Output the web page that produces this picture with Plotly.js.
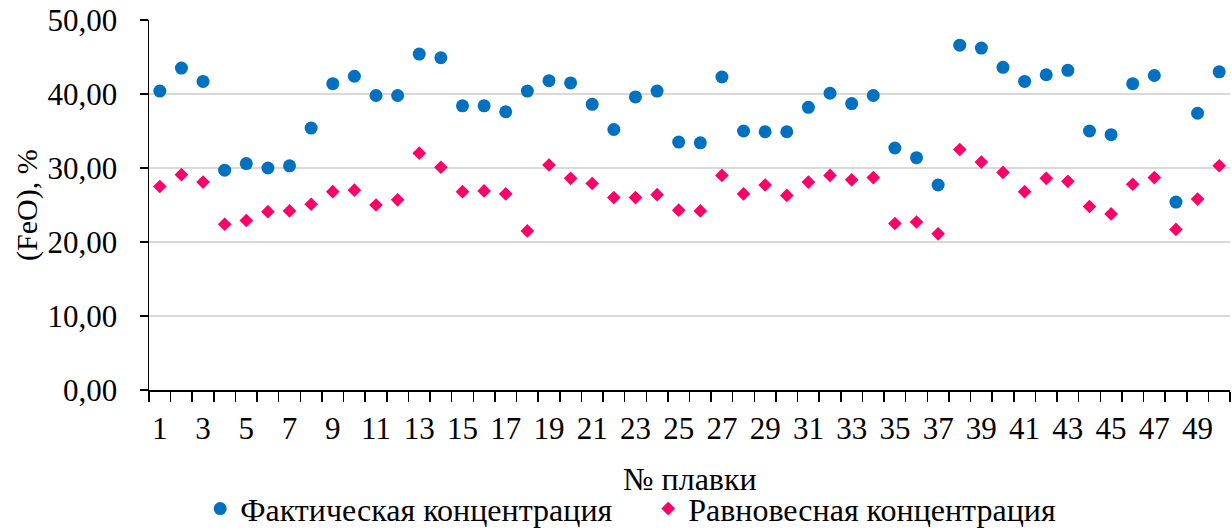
<!DOCTYPE html>
<html>
<head>
<meta charset="utf-8">
<script src="https://cdn.plot.ly/plotly-3.0.1.min.js"></script>
<style>html,body{margin:0;padding:0;background:#fff;}#chart{width:1232px;height:530px;}</style>
</head>
<body>
<div id="chart"></div>
<script>
const meltNumbers = [1,2,3,4,5,6,7,8,9,10,11,12,13,14,15,16,17,18,19,20,21,22,23,24,25,26,27,28,29,30,31,32,33,34,35,36,37,38,39,40,41,42,43,44,45,46,47,48,49,50];
const actualFeO = [40.4,43.5,41.7,29.7,30.6,30.0,30.3,35.4,41.4,42.4,39.8,39.8,45.4,44.9,38.4,38.4,37.6,40.4,41.8,41.5,38.6,35.2,39.6,40.4,33.5,33.4,42.3,35.0,34.9,34.9,38.2,40.1,38.7,39.8,32.7,31.4,27.7,46.6,46.2,43.6,41.7,42.6,43.2,35.0,34.5,41.4,42.5,25.4,37.4,43.0];
const equilibriumFeO = [27.5,29.1,28.1,22.4,22.9,24.1,24.2,25.1,26.8,27.0,25.0,25.7,32.0,30.1,26.8,26.9,26.5,21.5,30.4,28.6,27.9,26.0,26.0,26.4,24.3,24.2,29.0,26.5,27.7,26.3,28.1,29.0,28.4,28.7,22.5,22.7,21.1,32.5,30.8,29.4,26.8,28.6,28.2,24.8,23.8,27.8,28.7,21.7,25.8,30.3];
const xTickVals = [1,3,5,7,9,11,13,15,17,19,21,23,25,27,29,31,33,35,37,39,41,43,45,47,49];
const xTickText = ["1","3","5","7","9","11","13","15","17","19","21","23","25","27","29","31","33","35","37","39","41","43","45","47","49"];
const yTickVals = [0,10,20,30,40,50];
const seriesNames = ["Фактическая концентрация","Равновесная концентрация"];
const xTitle = "№ плавки";
const yTitle = "(FeO), %";

const FONT = "'Liberation Serif', 'Times New Roman', serif";

const traces = [
  {x: meltNumbers, y: actualFeO, type: "scatter", mode: "markers", name: seriesNames[0],
   marker: {symbol: "circle", size: 13, color: "#0070C0"}},
  {x: meltNumbers, y: equilibriumFeO, type: "scatter", mode: "markers", name: seriesNames[1],
   marker: {symbol: "diamond", size: 10.5, color: "#FF0066"}}
];

const layout = {
  width: 1232, height: 530,
  margin: {l: 149, r: 2, t: 20, b: 140},
  paper_bgcolor: "#fff", plot_bgcolor: "#fff",
  font: {family: FONT, size: 31, color: "#000"},
  separators: ", ",
  showlegend: true,
  legend: {orientation: "h", xref: "container", x: 0.1625, xanchor: "left", yref: "container", y: 0.04, yanchor: "middle",
           font: {family: FONT, size: 32, color: "#000"}, itemwidth: 30, entrywidth: 403, bgcolor: "rgba(0,0,0,0)"},
  xaxis: {
    range: [0.5, 50.5], tickmode: "array", tickvals: xTickVals, ticktext: xTickText,
    ticks: "outside", ticklen: 8, tickcolor: "rgba(0,0,0,0)", ticklabelstandoff: 2,
    tickfont: {family: FONT, size: 31, color: "#000"},
    showgrid: false, zeroline: false,
    showline: true, linecolor: "#000", linewidth: 1.5,
    minor: {ticks: "outside", tick0: 0.5, dtick: 1, ticklen: 10, tickwidth: 1.5, tickcolor: "#000", showgrid: false},
    fixedrange: true
  },
  yaxis: {
    range: [0, 50], tickmode: "array", tickvals: yTickVals, tickformat: ".2f",
    ticks: "outside", ticklen: 8, tickwidth: 1.5, tickcolor: "#000", ticklabelstandoff: 16,
    tickfont: {family: FONT, size: 31, color: "#000"},
    showgrid: true, gridcolor: "#d9d9d9", gridwidth: 2,
    zeroline: false, showline: true, linecolor: "#000", linewidth: 1.5,
    fixedrange: true
  },
  annotations: [
    {text: xTitle, xref: "paper", yref: "paper", x: 0.5, y: -0.24, xanchor: "center", yanchor: "middle",
     showarrow: false, font: {family: FONT, size: 32, color: "#000"}},
    {text: yTitle, xref: "paper", yref: "paper", x: -0.1129, y: 0.5, xanchor: "center", yanchor: "middle",
     textangle: -90, showarrow: false, font: {family: FONT, size: 30, color: "#000"}}
  ]
};

Plotly.newPlot("chart", traces, layout, {displayModeBar: false, staticPlot: true});
</script>
</body>
</html>
